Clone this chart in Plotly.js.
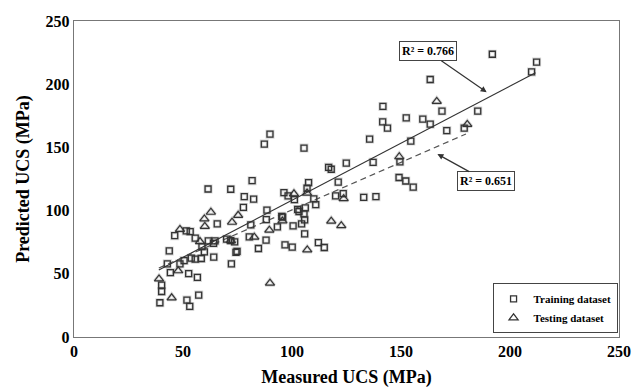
<!DOCTYPE html>
<html>
<head>
<meta charset="utf-8">
<script src="https://cdn.plot.ly/plotly-3.0.1.min.js"></script>
<style>html,body{margin:0;padding:0;background:#fff;}#chart{width:641px;height:391px;}</style>
</head>
<body>
<div id="chart"></div>
<script>
// Training dataset (measured, predicted)
const trainX = [39.4,40.2,40.2,42.8,43.7,44.2,46.2,48.6,50.5,51.5,53.3,51.8,53.1,52.6,53.8,55.6,55.6,56.6,57.2,58.4,58.7,59.8,61.5,61.6,64.0,64.7,64.1,65.7,70.0,71.9,73.7,71.9,74.8,74.3,72.2,77.7,78.1,80.4,81.1,81.7,82.4,84.6,87.3,88.1,88.2,88.5,89.9,93.3,95.3,96.3,95.7,96.8,98.2,100.5,100.1,101.1,102.6,103.2,104.4,105.5,105.5,105.8,105.8,106.1,106.9,107.6,110.0,110.9,112.1,114.8,116.8,118.0,120.0,121.2,123.5,124.9,132.9,137.2,135.6,138.5,141.7,141.6,143.8,149.1,149.5,152.2,152.4,154.5,155.6,160.0,163.4,163.4,168.8,171.0,179.0,185.2,191.9,209.9,212.2];
const trainY = [27.1,36.0,41.1,57.9,68.1,51.0,80.2,57.9,60.5,83.9,83.4,29.2,24.2,50.2,62.4,61.6,78.2,47.1,33.2,62.1,71.5,67.4,117.1,76.0,74.1,76.0,63.2,89.5,77.4,76.3,75.3,116.9,67.8,67.0,57.9,102.5,111.0,79.2,88.7,123.7,109.0,70.0,152.6,76.6,92.9,100.3,160.5,87.1,95.5,114.2,94.8,72.9,111.6,87.9,71.1,108.7,100.9,99.3,89.5,149.5,97.4,92.6,81.6,102.1,117.7,122.2,109.2,104.7,74.7,70.8,134.2,132.7,111.6,122.6,113.5,137.6,110.5,138.2,156.6,111.0,182.4,170.2,165.3,126.2,138.6,123.4,173.3,155.0,118.5,172.4,203.7,168.4,178.7,163.3,165.3,178.7,223.7,209.7,217.5];
// Testing dataset (measured, predicted)
const testX = [39.0,44.8,47.8,48.6,57.8,59.8,60.0,62.8,72.0,72.5,75.3,82.7,89.6,89.9,95.6,100.9,106.9,107.0,118.0,122.6,123.7,149.2,166.4,180.4];
const testY = [46.0,31.0,52.4,85.1,75.5,93.4,87.5,98.7,76.3,90.8,96.3,79.0,84.5,42.6,91.8,113.3,113.9,68.9,91.6,88.1,109.4,142.6,186.4,168.2];
// Fitted trend lines (end points)
const trainFitX = [38.9, 211.7];
const trainFitY = [53.0, 209.1];
const testFitX = [38.9, 179.8];
const testFitY = [54.6, 160.6];
const r2Train = "R² = 0.766";
const r2Test = "R² = 0.651";
const xTicks = [0,50,100,150,200,250];
const yTicks = [0,50,100,150,200,250];

const serif = "Liberation Serif, Times New Roman, serif";
const shadow = 'rgba(0,0,0,0.16)';
const traces = [
  {x: trainX, y: trainY, type:'scatter', mode:'markers', showlegend:false, hoverinfo:'skip',
   marker:{symbol:'square-open', size:6, color:shadow, line:{width:3, color:shadow}}},
  {x: testX, y: testY, type:'scatter', mode:'markers', showlegend:false, hoverinfo:'skip',
   marker:{symbol:'triangle-up-open', size:8, color:shadow, line:{width:3, color:shadow}}},
  {x: trainFitX, y: trainFitY, type:'scatter', mode:'lines', showlegend:false,
   line:{color:'#333', width:1.2}},
  {x: testFitX, y: testFitY, type:'scatter', mode:'lines', showlegend:false,
   line:{color:'#555', width:1.2, dash:'6px,4px'}},
  {x: trainX, y: trainY, type:'scatter', mode:'markers', name:'Training dataset',
   marker:{symbol:'square-open', size:6, color:'#333', line:{width:1.3, color:'#333'}}},
  {x: testX, y: testY, type:'scatter', mode:'markers', name:'Testing dataset',
   marker:{symbol:'triangle-up-open', size:8, color:'#333', line:{width:1.2, color:'#333'}}}
];

const layout = {
  width:641, height:391,
  margin:{l:74, r:22, t:21, b:54},
  paper_bgcolor:'#fff', plot_bgcolor:'#fff',
  font:{family:serif, color:'#000'},
  xaxis:{range:[0,250], tickvals:xTicks, ticktext:xTicks.map(v=>'<b>'+v+'</b>'), showgrid:false, zeroline:false,
    showline:true, mirror:true, linecolor:'#777', linewidth:1.2, ticks:'',
    tickfont:{family:serif, size:16, color:'#000'},
    title:{text:'<b>Measured UCS (MPa)</b>', font:{family:serif, size:18, color:'#000'}, standoff:11}},
  yaxis:{range:[0,250], tickvals:yTicks, ticktext:yTicks.map(v=>'<b>'+v+'</b>'), showgrid:false, zeroline:false,
    showline:true, mirror:true, linecolor:'#777', linewidth:1.2, ticks:'',
    tickfont:{family:serif, size:16, color:'#000'},
    title:{text:'<b>Predicted UCS (MPa)</b>', font:{family:serif, size:18, color:'#000'}, standoff:11}},
  legend:{x:0.768, y:0.17, xanchor:'left', yanchor:'top', bgcolor:'#fff', bordercolor:'#444', borderwidth:1,
    font:{family:serif, size:11, color:'#000', weight:'bold'}, itemwidth:30, tracegroupgap:0},
  annotations:[
    {x:189.3, y:193.7, xref:'x', yref:'y', text:'<b>'+r2Train+'</b>', showarrow:true, arrowhead:2, arrowsize:1, arrowwidth:1.2, arrowcolor:'#333',
     ax:-59, ay:-41, font:{family:serif, size:12, color:'#000'}, bgcolor:'#fff', bordercolor:'#444', borderwidth:1, borderpad:2},
    {x:166.7, y:144.7, xref:'x', yref:'y', text:'<b>'+r2Test+'</b>', showarrow:true, arrowhead:2, arrowsize:1, arrowwidth:1.2, arrowcolor:'#333',
     ax:49, ay:27, font:{family:serif, size:12, color:'#000'}, bgcolor:'#fff', bordercolor:'#444', borderwidth:1, borderpad:2}
  ]
};
Plotly.newPlot('chart', traces, layout, {displayModeBar:false, staticPlot:true});
</script>
</body>
</html>
